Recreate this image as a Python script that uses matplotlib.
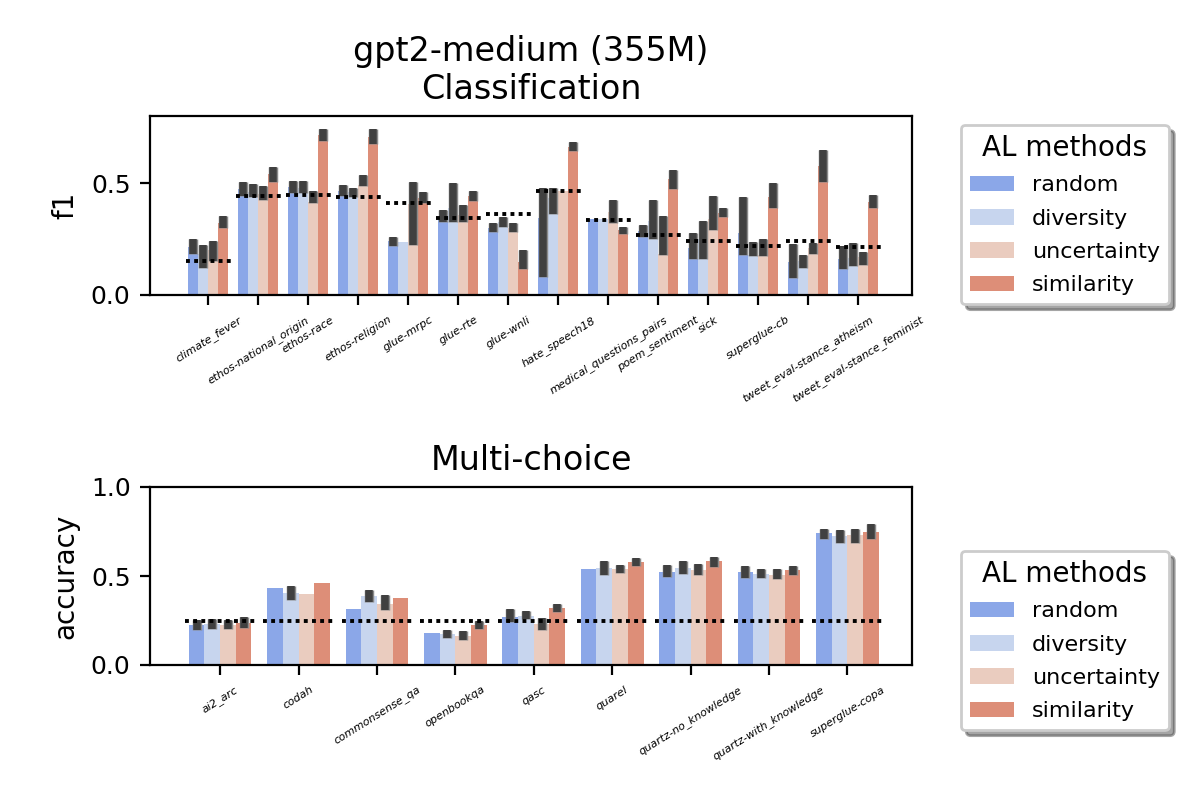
import numpy as np
import matplotlib
matplotlib.use("Agg")
import matplotlib.pyplot as plt
from matplotlib.collections import LineCollection
from matplotlib.patches import Patch
import matplotlib.patheffects as pe

# ---------------- data ----------------
methods = ["random", "diversity", "uncertainty", "similarity"]
colors = ["#8BA7E8", "#C7D5EE", "#EACCBF", "#DD8E78"]

cls_datasets = ["climate_fever", "ethos-national_origin", "ethos-race", "ethos-religion",
                "glue-mrpc", "glue-rte", "glue-wnli", "hate_speech18",
                "medical_questions_pairs", "poem_sentiment", "sick", "superglue-cb",
                "tweet_eval-stance_atheism", "tweet_eval-stance_feminist"]

cls_random_mean = [0.215, 0.472, 0.484, 0.466, 0.241, 0.336, 0.299, 0.342, 0.339, 0.287, 0.212, 0.279, 0.148, 0.160]
cls_random_lo   = [0.182, 0.442, 0.458, 0.443, 0.221, 0.328, 0.281, 0.081, 0.339, 0.261, 0.160, 0.179, 0.078, 0.118]
cls_random_hi   = [0.249, 0.505, 0.509, 0.491, 0.261, 0.380, 0.321, 0.480, 0.339, 0.313, 0.276, 0.437, 0.227, 0.219]

cls_diversity_mean = [0.185, 0.462, 0.480, 0.461, 0.239, 0.388, 0.326, 0.433, 0.339, 0.331, 0.249, 0.180, 0.152, 0.167]
cls_diversity_lo   = [0.122, 0.436, 0.454, 0.439, 0.239, 0.328, 0.306, 0.361, 0.339, 0.249, 0.160, 0.175, 0.122, 0.128]
cls_diversity_hi   = [0.222, 0.496, 0.509, 0.478, 0.239, 0.500, 0.348, 0.480, 0.339, 0.425, 0.331, 0.236, 0.178, 0.234]

cls_uncertainty_mean = [0.200, 0.450, 0.415, 0.490, 0.405, 0.358, 0.299, 0.466, 0.372, 0.185, 0.340, 0.180, 0.212, 0.170]
cls_uncertainty_lo   = [0.152, 0.424, 0.409, 0.485, 0.224, 0.328, 0.281, 0.466, 0.321, 0.180, 0.291, 0.175, 0.185, 0.136]
cls_uncertainty_hi   = [0.242, 0.488, 0.464, 0.537, 0.506, 0.403, 0.321, 0.466, 0.424, 0.354, 0.443, 0.249, 0.231, 0.191]

cls_similarity_mean = [0.321, 0.540, 0.716, 0.707, 0.433, 0.443, 0.148, 0.663, 0.291, 0.519, 0.366, 0.436, 0.578, 0.416]
cls_similarity_lo   = [0.299, 0.505, 0.687, 0.675, 0.410, 0.422, 0.118, 0.645, 0.272, 0.473, 0.348, 0.391, 0.506, 0.391]
cls_similarity_hi   = [0.352, 0.570, 0.742, 0.742, 0.460, 0.466, 0.200, 0.682, 0.306, 0.558, 0.388, 0.500, 0.648, 0.446]

cls_baseline = [0.150, 0.443, 0.445, 0.436, 0.409, 0.346, 0.360, 0.466, 0.337, 0.266, 0.243, 0.220, 0.243, 0.216]

mc_datasets = ["ai2_arc", "codah", "commonsense_qa", "openbookqa", "qasc", "quarel",
               "quartz-no_knowledge", "quartz-with_knowledge", "superglue-copa"]

mc_random_mean = [0.227, 0.430, 0.317, 0.182, 0.272, 0.537, 0.525, 0.520, 0.739]
mc_random_lo   = [0.197, 0.430, 0.317, 0.182, 0.240, 0.537, 0.493, 0.488, 0.707]
mc_random_hi   = [0.253, 0.430, 0.317, 0.182, 0.315, 0.537, 0.563, 0.557, 0.765]

mc_diversity_mean = [0.231, 0.407, 0.385, 0.176, 0.278, 0.546, 0.546, 0.514, 0.722]
mc_diversity_lo   = [0.203, 0.366, 0.353, 0.152, 0.259, 0.507, 0.510, 0.488, 0.685]
mc_diversity_hi   = [0.259, 0.445, 0.424, 0.197, 0.304, 0.582, 0.582, 0.540, 0.760]

mc_uncertainty_mean = [0.227, 0.401, 0.345, 0.165, 0.230, 0.542, 0.531, 0.508, 0.728]
mc_uncertainty_lo   = [0.203, 0.401, 0.310, 0.141, 0.197, 0.518, 0.507, 0.482, 0.685]
mc_uncertainty_hi   = [0.253, 0.401, 0.396, 0.191, 0.265, 0.563, 0.567, 0.540, 0.765]

mc_similarity_mean = [0.238, 0.463, 0.379, 0.227, 0.321, 0.576, 0.582, 0.531, 0.745]
mc_similarity_lo   = [0.210, 0.463, 0.379, 0.200, 0.296, 0.555, 0.550, 0.507, 0.707]
mc_similarity_hi   = [0.270, 0.463, 0.379, 0.250, 0.343, 0.602, 0.608, 0.557, 0.790]

mc_baseline = [0.25, 0.25, 0.25, 0.25, 0.25, 0.25, 0.25, 0.25, 0.25]

cls_means = [cls_random_mean, cls_diversity_mean, cls_uncertainty_mean, cls_similarity_mean]
cls_los = [cls_random_lo, cls_diversity_lo, cls_uncertainty_lo, cls_similarity_lo]
cls_his = [cls_random_hi, cls_diversity_hi, cls_uncertainty_hi, cls_similarity_hi]
mc_means = [mc_random_mean, mc_diversity_mean, mc_uncertainty_mean, mc_similarity_mean]
mc_los = [mc_random_lo, mc_diversity_lo, mc_uncertainty_lo, mc_similarity_lo]
mc_his = [mc_random_hi, mc_diversity_hi, mc_uncertainty_hi, mc_similarity_hi]

# ---------------- plotting ----------------
fig = plt.figure(figsize=(6, 4), dpi=200)
ax1 = fig.add_axes([0.125, 0.63125, 0.635, 0.22375])
ax2 = fig.add_axes([0.125, 0.16875, 0.635, 0.2225])


def draw(ax, datasets, means, los, his, baseline, ylabel, title, ylim, xlim, yticks):
    n = len(datasets)
    x = np.arange(n)
    bw = 0.2
    offsets = [-0.3, -0.1, 0.1, 0.3]
    segs = []
    for k in range(4):
        ax.bar(x + offsets[k], means[k], width=bw, color=colors[k], zorder=2)
        for i in range(n):
            if his[k][i] > los[k][i]:
                segs.append([(x[i] + offsets[k], los[k][i]), (x[i] + offsets[k], his[k][i])])
    lc = LineCollection(segs, colors="#404040", linewidths=2.7, capstyle="butt", zorder=3)
    lc.set_path_effects([pe.Stroke(linewidth=3.4, foreground="#8a8a8a"), pe.Normal()])
    ax.add_collection(lc)
    ax.hlines(baseline, x - 0.45, x + 0.45, colors="black", linestyles=[(0, (1, 1.1))],
              linewidth=1.4, zorder=4)
    ax.set_xticks(x)
    ax.set_xticklabels(datasets, rotation=32, fontsize=4, style="italic")
    ax.set_xlim(*xlim)
    ax.set_ylim(*ylim)
    ax.set_yticks(yticks)
    ax.tick_params(axis="y", labelsize=9)
    ax.set_ylabel(ylabel, fontsize=10)
    ax.set_title(title, fontsize=12)


draw(ax1, cls_datasets, cls_means, cls_los, cls_his, cls_baseline, "f1",
     "gpt2-medium (355M)\nClassification", (0, 0.8), (-1.17, 14.08), [0.0, 0.5])
draw(ax2, mc_datasets, mc_means, mc_los, mc_his, mc_baseline, "accuracy",
     "Multi-choice", (0, 1.0), (-0.894, 8.824), [0.0, 0.5, 1.0])

handles = [Patch(facecolor=c, label=m) for c, m in zip(colors, methods)]
for ax, anchor in [(ax1, (0.8006, 0.84375)), (ax2, (0.8006, 0.31125))]:
    leg = ax.legend(handles=handles, title="AL methods", loc="upper left",
                    bbox_to_anchor=anchor, bbox_transform=fig.transFigure,
                    borderaxespad=0, fontsize=8, title_fontsize=10, shadow=True,
                    labelspacing=0.6)

fig.savefig("out.png", dpi=200)
